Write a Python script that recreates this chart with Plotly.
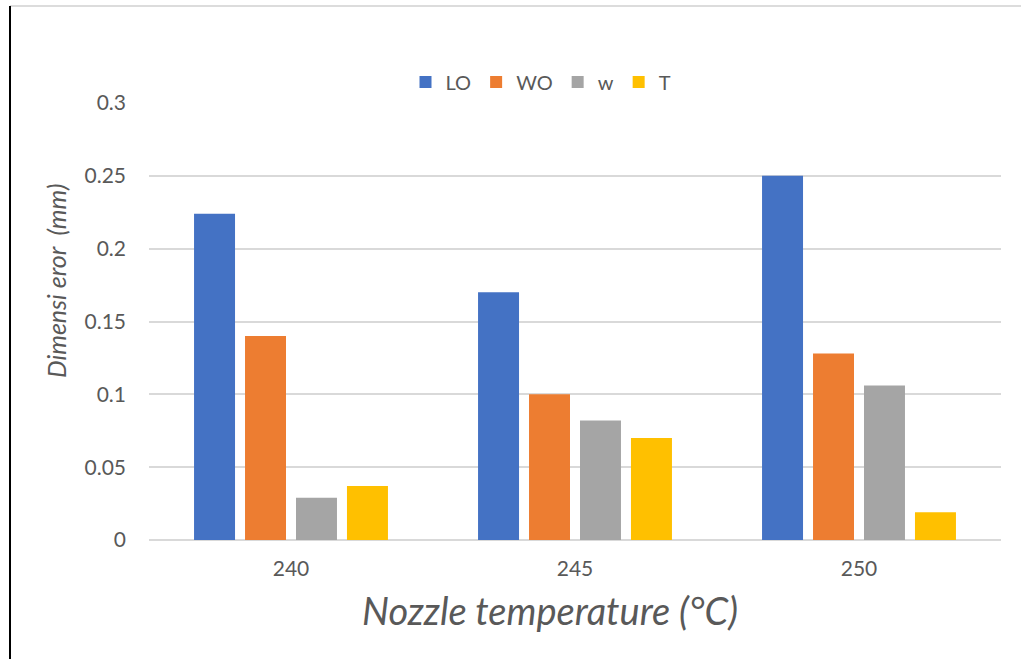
import plotly.graph_objects as go

categories = ["240", "245", "250"]
series_names = ["LO", "WO", "w", "T"]
LO = [0.224, 0.170, 0.250]
WO = [0.140, 0.100, 0.128]
w = [0.029, 0.082, 0.106]
T = [0.037, 0.070, 0.019]
colors = ["#4472C4", "#ED7D31", "#A5A5A5", "#FFC000"]
y_ticks = [0, 0.05, 0.1, 0.15, 0.2, 0.25, 0.3]
y_tick_labels = ["0", "0.05", "0.1", "0.15", "0.2", "0.25", "0.3"]
x_title = "Nozzle temperature (°C)"
y_title = "Dimensi eror  (mm)"

FONT = "Lato"
TXT = "#595959"
fig = go.Figure()
for name, vals, c in zip(series_names, [LO, WO, w, T], colors):
    fig.add_trace(go.Bar(x=categories, y=vals, name=name, marker_color=c,
                         marker_line_width=0))

L, R, T_m, B = 149, 20, 103, 119
W, H = 1021, 659
pw, ph = W - L - R, H - T_m - B

def px(x):
    return (x - L) / pw

def py(y):
    return (H - B - y) / ph

fig.update_layout(
    width=W, height=H,
    margin=dict(l=L, r=R, t=T_m, b=B, pad=0),
    paper_bgcolor="white", plot_bgcolor="white",
    barmode="group", bargap=0.282, bargroupgap=0.196,
    font=dict(family=FONT, color=TXT),
    legend=dict(orientation="h", x=px(541), xanchor="center", y=py(82), yanchor="middle",
                font=dict(size=20, color=TXT), itemwidth=30,
                traceorder="normal"),
    xaxis=dict(type="category", showgrid=False, showline=False, ticks="",
               tickfont=dict(size=21, color=TXT), ticklabelstandoff=14),
    yaxis=dict(range=[0, 0.3], tickvals=y_ticks, ticktext=y_tick_labels,
               showgrid=True, gridcolor="#D9D9D9", gridwidth=1.5,
               zeroline=True, zerolinecolor="#D9D9D9", zerolinewidth=1.5,
               showline=False, ticks="", ticklen=0,
               tickfont=dict(size=21, color=TXT), ticklabelstandoff=22),
    annotations=[
        dict(text="<i>" + x_title + "</i>", xref="paper", yref="paper",
             x=px(550), y=py(610), xanchor="center", yanchor="middle",
             showarrow=False, font=dict(size=38, color=TXT)),
        dict(text="<i>" + y_title + "</i>", xref="paper", yref="paper",
             x=px(56), y=py(281), xanchor="center", yanchor="middle",
             textangle=-90, showarrow=False, font=dict(size=25, color=TXT)),
    ],
    shapes=[
        dict(type="line", xref="paper", yref="paper", x0=px(10), x1=px(1021),
             y0=py(6), y1=py(6), line=dict(color="#D0D0D0", width=1.5)),
        dict(type="line", xref="paper", yref="paper", x0=px(10), x1=px(10),
             y0=py(6), y1=py(660), line=dict(color="#000000", width=2)),
    ],
)

fig.write_html("out.html")
